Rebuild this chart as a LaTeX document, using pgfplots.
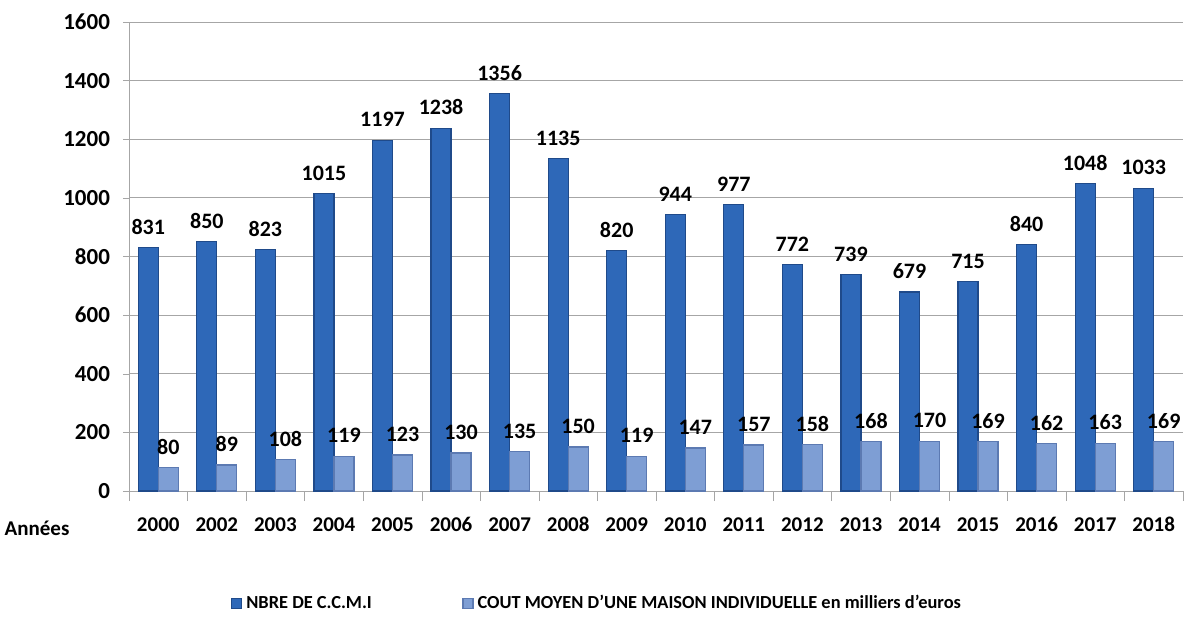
\documentclass[border=0pt]{standalone}
\usepackage{pgfplots}
\pgfplotsset{compat=1.18}
\usepackage{fontspec}
\setmainfont{Carlito}
\definecolor{darkA}{HTML}{1F4A8A}
\definecolor{darkB}{HTML}{2E68B8}
\definecolor{lightA}{HTML}{5C7AB2}
\definecolor{lightB}{HTML}{7E9ED4}
\definecolor{gridc}{HTML}{A6A6A6}
\begin{document}
\begin{tikzpicture}
\begin{axis}[
  at={(0,0)}, anchor=south west,
  scale only axis,
  width=527pt, height=234.5pt,
  ybar, bar width=10pt, ybar=0pt,
  xmin=-0.5, xmax=17.5,
  ymin=0, ymax=1600,
  ytick={0,200,...,1600},
  xtick={0,...,17},
  xticklabels={2000,2002,2003,2004,2005,2006,2007,2008,2009,2010,2011,2012,2013,2014,2015,2016,2017,2018},
  minor xtick={-0.5,0.5,...,17.5},
  major x tick style={draw=none},
  minor tick length=5pt,
  major tick length=3pt,
  tick align=outside,
  axis x line*=bottom, axis y line*=left,
  axis line style={draw=gridc, -},
  tick style={gridc},
  ymajorgrids, major grid style={gridc, line width=0.5pt},
  yticklabel style={font=\bfseries\fontsize{11.5}{13}\selectfont, xshift=-3pt},
  xticklabel style={font=\bfseries\fontsize{10.5}{12}\selectfont, yshift=-6pt, text height=7.6pt, text depth=0pt},
  /pgf/number format/assume math mode=true,
  /pgf/number format/1000 sep={},
  nodes near coords,
  every node near coord/.append style={font=\bfseries\fontsize{11}{13}\selectfont, black, yshift=3pt, text height=8pt, text depth=0pt},
  legend style={draw=none, at={(0.445,-0.24)}, anchor=center, legend columns=2,
    font=\bfseries\fontsize{9.2}{11}\selectfont, column sep=0pt},
  legend image code/.code={\fill[#1] (0pt,-2.5pt) rectangle (5pt,2.5pt);},
  clip=false,
]
\addplot[draw=darkA, fill=darkB, line width=0.6pt] coordinates {
(0,831) (1,850) (2,823) (3,1015) (4,1197) (5,1238) (6,1356) (7,1135) (8,820) (9,944) (10,977) (11,772) (12,739) (13,679) (14,715) (15,840) (16,1048) (17,1033)};
\addplot[draw=lightA, fill=lightB, line width=0.6pt] coordinates {
(0,80) (1,89) (2,108) (3,119) (4,123) (5,130) (6,135) (7,150) (8,119) (9,147) (10,157) (11,158) (12,168) (13,170) (14,169) (15,162) (16,163) (17,169)};
\legend{\makebox[106pt][l]{NBRE DE C.C.M.I},COUT MOYEN D'UNE MAISON INDIVIDUELLE en milliers d'euros}
\node[font=\bfseries\fontsize{10.5}{12}\selectfont] at (rel axis cs:0,0) [xshift=-46pt, yshift=-18.5pt] {Années};
\end{axis}
\pgfresetboundingbox
\useasboundingbox (-64.5pt,-69pt) rectangle (527.5pt,245.5pt);
\end{tikzpicture}
\end{document}
